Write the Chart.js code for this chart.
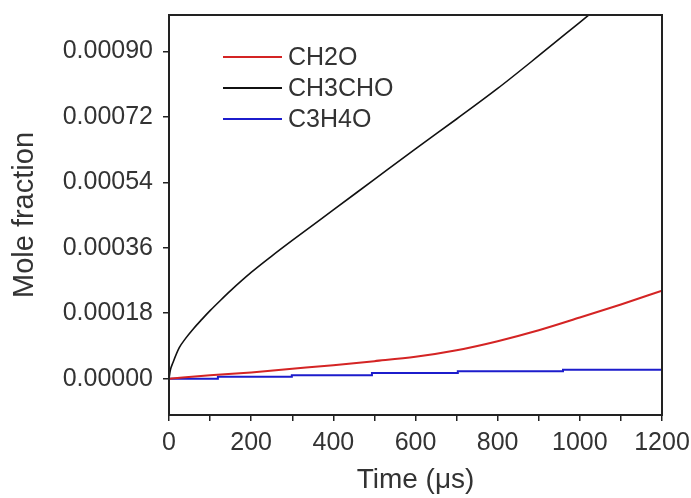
<!DOCTYPE html>
<html>
<head>
<meta charset="utf-8">
<script src="https://cdn.jsdelivr.net/npm/chart.js@4.4.1/dist/chart.umd.min.js"></script>
<style>
  html, body { margin: 0; padding: 0; background: #fff; }
  #wrap { width: 691px; height: 498px; position: relative; }
</style>
</head>
<body>
<div id="wrap"><canvas id="moleChart"></canvas></div>
<script>
// ---- data ----
const seriesLabels = ["CH2O", "CH3CHO", "C3H4O"];

const ch2oTime = [0, 100, 200, 300, 400, 500, 600, 700, 800, 900, 1000, 1100, 1200];
const ch2oValues = [0, 0.000009, 0.000017, 0.000027, 0.000037, 0.000048, 0.00006, 0.000078, 0.000103, 0.000133, 0.000168, 0.000204, 0.000242];

const ch3choTime = [0, 3, 10, 25, 40, 60, 80, 100, 125, 150, 200, 250, 300, 400, 500, 600, 700, 800, 900, 1000, 1100, 1200];
const ch3choValues = [0, 0.000022, 0.000045, 0.000085, 0.00011, 0.000138, 0.000163, 0.000187, 0.000215, 0.000242, 0.000292, 0.000337, 0.00038, 0.000464, 0.000548, 0.000632, 0.000714, 0.000798, 0.000888, 0.00098, 0.001072, 0.001165];

// stepped series: time where each new level starts
const c3h4oTime = [0, 119, 299, 494, 703, 959, 1200];
const c3h4oValues = [0, 0.0000055, 0.000009, 0.0000157, 0.00002, 0.0000247, 0.0000247];

const yTickValues = [0, 0.00018, 0.00036, 0.00054, 0.00072, 0.0009];

const toPoints = (xs, ys) => xs.map((x, i) => ({ x: x, y: ys[i] }));

Chart.defaults.font.family = "'Liberation Sans', Arial, sans-serif";

// box round the plot area
const framePlugin = {
  id: "frame",
  afterDraw(chart) {
    const { ctx, chartArea: a } = chart;
    ctx.save();
    ctx.strokeStyle = "#222";
    ctx.lineWidth = 2;
    ctx.strokeRect(a.left, a.top, a.right - a.left, a.bottom - a.top);
    ctx.restore();
  }
};

// legend drawn inside the plot, upper left
const innerLegend = {
  id: "innerLegend",
  afterDatasetsDraw(chart) {
    const { ctx, chartArea: a } = chart;
    ctx.save();
    ctx.font = "25px 'Liberation Sans', Arial, sans-serif";
    ctx.textBaseline = "middle";
    chart.data.datasets.forEach((ds, i) => {
      const y = a.top + 42 + i * 31;
      ctx.strokeStyle = ds.borderColor;
      ctx.lineWidth = 2;
      ctx.beginPath();
      ctx.moveTo(a.left + 54, y);
      ctx.lineTo(a.left + 113, y);
      ctx.stroke();
      ctx.fillStyle = "#333";
      ctx.fillText(ds.label, a.left + 119, y + 1);
    });
    ctx.restore();
  }
};

new Chart(document.getElementById("moleChart"), {
  type: "line",
  data: {
    datasets: [
      {
        label: seriesLabels[0],
        data: toPoints(ch2oTime, ch2oValues),
        borderColor: "#d42424",
        borderWidth: 2,
        pointRadius: 0,
        cubicInterpolationMode: "monotone"
      },
      {
        label: seriesLabels[1],
        data: toPoints(ch3choTime, ch3choValues),
        borderColor: "#111",
        borderWidth: 1.6,
        pointRadius: 0,
        cubicInterpolationMode: "monotone"
      },
      {
        label: seriesLabels[2],
        data: toPoints(c3h4oTime, c3h4oValues),
        borderColor: "#1c1ccc",
        borderWidth: 2,
        pointRadius: 0,
        stepped: "before"
      }
    ]
  },
  options: {
    responsive: true,
    maintainAspectRatio: false,
    animation: false,
    layout: { padding: { top: 15, right: 29, left: 0, bottom: 0 } },
    plugins: {
      legend: { display: false },
      tooltip: { enabled: false }
    },
    scales: {
      x: {
        type: "linear",
        min: 0,
        max: 1200,
        afterFit: s => {
          s.height = 83;
          s.paddingLeft = 0;
          s.paddingRight = 0;
        },
        ticks: {
          stepSize: 100,
          autoSkip: false,
          maxRotation: 0,
          padding: 7,
          color: "#333",
          font: { size: 25 },
          callback: v => (v % 200 === 0 ? String(v) : "")
        },
        grid: { drawOnChartArea: false, tickLength: 6, color: "#222", lineWidth: 1.5 },
        border: { display: true, color: "#222", width: 2 },
        title: {
          display: true,
          text: "Time (μs)",
          color: "#333",
          font: { size: 28 },
          padding: { top: 0, bottom: 1 }
        }
      },
      y: {
        min: -0.0001,
        max: 0.001,
        afterFit: s => {
          s.width = 169;
          s.paddingTop = 0;
          s.paddingBottom = 0;
        },
        afterBuildTicks: s => { s.ticks = yTickValues.map(v => ({ value: v })); },
        ticks: {
          padding: 10,
          color: "#333",
          font: { size: 25 },
          callback: v => v.toFixed(5)
        },
        grid: { drawOnChartArea: false, tickLength: 6, color: "#222", lineWidth: 1.5 },
        border: { display: true, color: "#222", width: 2 },
        title: {
          display: true,
          text: "Mole fraction",
          color: "#333",
          font: { size: 29 },
          padding: { top: 8, bottom: 0 }
        }
      }
    }
  },
  plugins: [framePlugin, innerLegend]
});
</script>
</body>
</html>
